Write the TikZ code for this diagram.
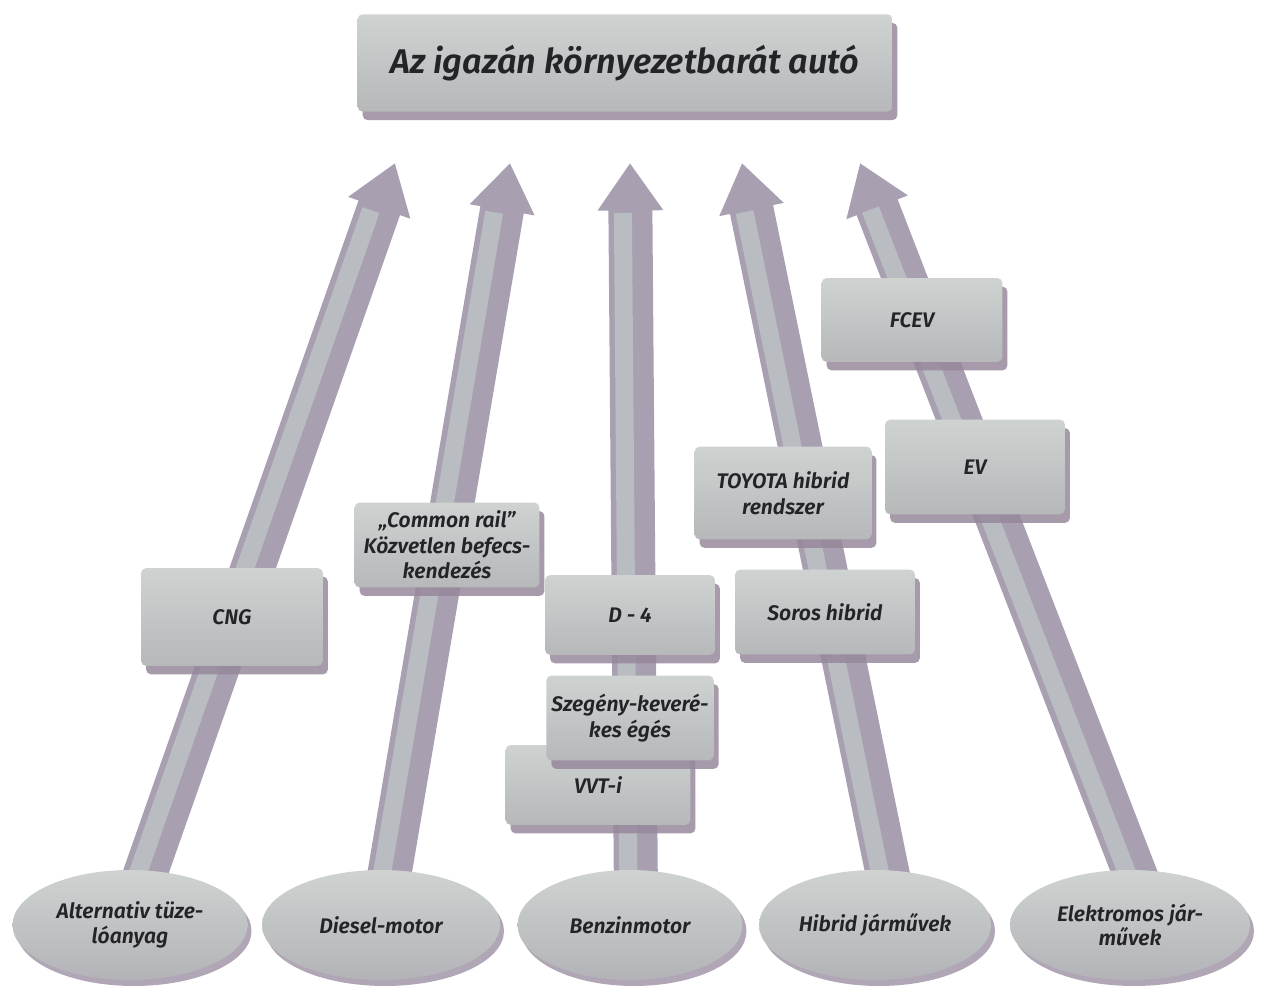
\documentclass[tikz,border=0pt]{standalone}
\usepackage{fontspec}
\setmainfont{Fira Sans}[ItalicFont={Fira Sans SemiBold Italic}]
\usetikzlibrary{shapes.geometric,shadows,arrows.meta,backgrounds}
\definecolor{boxtop}{RGB}{206,211,209}
\definecolor{boxbot}{RGB}{182,184,186}
\definecolor{shadowcol}{RGB}{150,136,156}
\definecolor{arrowcol}{RGB}{168,160,176}
\definecolor{arrowhi}{RGB}{192,198,198}
\definecolor{textcol}{RGB}{35,35,40}
\tikzset{
  card/.style={rectangle, rounded corners=3pt, top color=boxtop, bottom color=boxbot,
    draw=none, align=center, inner sep=2pt, text=textcol,
    font=\fontsize{12}{14.5}\selectfont\itshape,
    drop shadow={shadow xshift=0.1cm, shadow yshift=-0.17cm, fill=shadowcol, opacity=0.85}},
  disk/.style={ellipse, top color=boxtop, bottom color=boxbot!90!shadowcol,
    draw=none, align=center, inner sep=1pt, text=textcol,
    font=\fontsize{12}{14}\selectfont\itshape,
    minimum width=4.7cm, minimum height=2.2cm,
    drop shadow={shadow xshift=0.08cm, shadow yshift=-0.12cm, fill=shadowcol, opacity=0.75}},
  bigarrow/.style={line width=0.88cm, draw=arrowcol, -{Triangle[width=1.25cm,length=0.95cm]}},
  arrowshine/.style={line width=0.36cm, draw=arrowhi, opacity=0.75, shorten >=1cm}
}
\begin{document}
\begin{tikzpicture}[x=0.02cm,y=-0.02cm]
\useasboundingbox (0,0) rectangle (1262,989);

% top target
\node[card, minimum width=10.7cm, minimum height=1.95cm,
      font=\fontsize{19.5}{22}\selectfont\itshape] (top) at (625,63) {Az igazán környezetbarát autó};

% arrow end points
\coordinate (b1) at (136,900); \coordinate (t1) at (395,163);
\coordinate (b2) at (385,900); \coordinate (t2) at (510,163);
\coordinate (b3) at (636,900); \coordinate (t3) at (630,163);
\coordinate (b4) at (893,900); \coordinate (t4) at (742,163);
\coordinate (b5) at (1145,900); \coordinate (t5) at (860,163);

% intermediate boxes
\node[card, minimum width=3.64cm, minimum height=1.96cm] (cng) at (232,617) {CNG};
\node[card, minimum width=3.7cm, minimum height=1.7cm] (cr) at (447,545) {„Common rail”\\Közvetlen befecs-\\kendezés};
\node[card, minimum width=3.4cm, minimum height=1.6cm] (d4) at (630,615) {D - 4};
\node[card, minimum width=3.7cm, minimum height=1.6cm] (vvti) at (598,785) {VVT-i};
\node[card, minimum width=3.35cm, minimum height=1.7cm] (sz) at (630,718) {Szegény-keveré-\\kes égés};
\node[card, minimum width=3.6cm, minimum height=1.7cm] (soros) at (825,612) {Soros hibrid};
\node[card, minimum width=3.54cm, minimum height=1.86cm] (toy) at (783,493) {TOYOTA hibrid\\rendszer};
\node[card, minimum width=3.6cm, minimum height=1.9cm] (ev) at (975,467) {EV};
\node[card, minimum width=3.62cm, minimum height=1.68cm] (fcev) at (912,320) {FCEV};

% source ellipses
\node[disk] (e1) at (130,925) {Alternativ tüze-\\lóanyag};
\node[disk, minimum width=4.76cm] (e2) at (381,925) {Diesel-motor};
\node[disk, minimum width=4.5cm] (e3) at (630,925) {Benzinmotor};
\node[disk, minimum width=4.64cm] (e4) at (875,925) {Hibrid járművek};
\node[disk, minimum width=4.8cm] (e5) at (1130,925) {Elektromos jár-\\művek};

\begin{pgfonlayer}{background}
  \foreach \i in {1,...,5}{
    \draw[bigarrow] (b\i) -- (t\i);
    \draw[arrowshine, transform canvas={xshift=-0.15cm}] (b\i) -- (t\i);
  }
\end{pgfonlayer}
\end{tikzpicture}
\end{document}
